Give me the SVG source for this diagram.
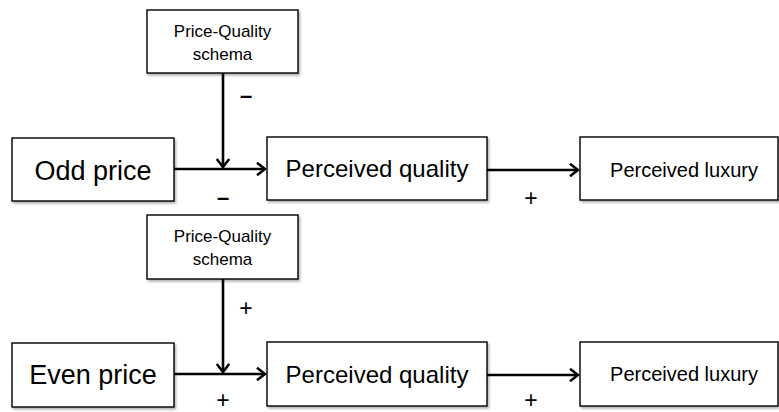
<svg xmlns="http://www.w3.org/2000/svg" width="779" height="412" viewBox="0 0 779 412">
<defs>
<marker id="arr" markerWidth="12" markerHeight="14" refX="10" refY="7" orient="auto" markerUnits="userSpaceOnUse">
<path d="M2,0.8 L10,7 L2,13.2" fill="none" stroke="#000" stroke-width="2.6"/>
</marker>
<filter id="sh" x="-5%" y="-5%" width="110%" height="115%">
<feDropShadow dx="1.5" dy="2" stdDeviation="1.2" flood-color="#000" flood-opacity="0.3"/>
</filter>
</defs>
<style>
rect{fill:#fff;stroke:#000;stroke-width:1.4;filter:url(#sh)}
text{font-family:"Liberation Sans",Arial,sans-serif;fill:#000;text-anchor:middle}
.big{font-size:27px}
.mid{font-size:24px}
.lux{font-size:20px}
.sm{font-size:17px}
.sign{font-size:23px}
.minus{font-size:22px;font-weight:bold}
.c{fill:none;stroke:#000;stroke-width:2.6}
</style>
<g id="connectors">
<line class="c" x1="174" y1="169" x2="265" y2="169" marker-end="url(#arr)"/>
<line class="c" x1="223" y1="73" x2="223" y2="167" marker-end="url(#arr)"/>
<line class="c" x1="487" y1="170" x2="578" y2="170" marker-end="url(#arr)"/>
<line class="c" x1="174" y1="374" x2="265" y2="374" marker-end="url(#arr)"/>
<line class="c" x1="223" y1="279" x2="223" y2="372" marker-end="url(#arr)"/>
<line class="c" x1="487" y1="375" x2="578" y2="375" marker-end="url(#arr)"/>
<text class="minus" x="246" y="103">–</text>
<text class="minus" x="223" y="205">–</text>
<text class="sign" x="531" y="206">+</text>
<text class="sign" x="246" y="316">+</text>
<text class="sign" x="223" y="408">+</text>
<text class="sign" x="531" y="408">+</text>
</g>
<g id="schema1"><rect x="147" y="10" width="151" height="63"/><text class="sm" x="222.5" y="37">Price-Quality</text><text class="sm" x="222.5" y="60">schema</text></g>
<g id="odd"><rect x="12" y="138" width="162" height="63"/><text class="big" x="93" y="180">Odd price</text></g>
<g id="quality1"><rect x="267" y="137" width="220" height="63"/><text class="mid" x="377" y="177">Perceived quality</text></g>
<g id="luxury1"><rect x="580" y="137" width="198" height="63"/><text class="lux" x="684" y="177">Perceived luxury</text></g>
<g id="schema2"><rect x="147" y="215" width="151" height="64"/><text class="sm" x="222.5" y="242">Price-Quality</text><text class="sm" x="222.5" y="265">schema</text></g>
<g id="even"><rect x="12" y="343" width="162" height="64"/><text class="big" x="93" y="384">Even price</text></g>
<g id="quality2"><rect x="267" y="342" width="220" height="64"/><text class="mid" x="377" y="383">Perceived quality</text></g>
<g id="luxury2"><rect x="580" y="342" width="198" height="64"/><text class="lux" x="684" y="381">Perceived luxury</text></g>
</svg>
